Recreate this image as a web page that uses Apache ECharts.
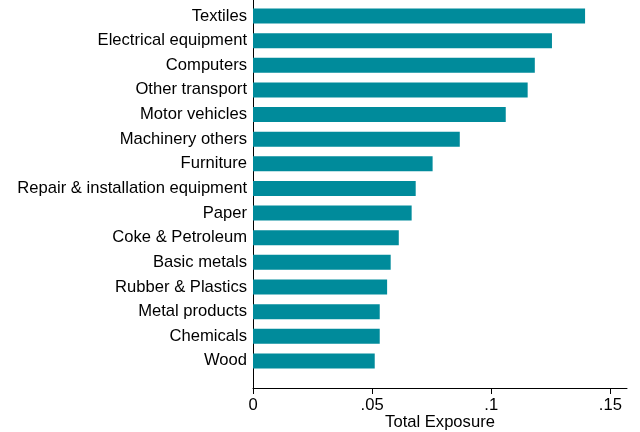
<!DOCTYPE html>
<html>
<head>
<meta charset="utf-8">
<script src="https://cdn.jsdelivr.net/npm/echarts@6/dist/echarts.min.js"></script>
<style>html,body{margin:0;padding:0;background:#fff}#c{width:640px;height:432px}</style>
</head>
<body>
<div id="c"></div>
<script>
const categories = ["Textiles","Electrical equipment","Computers","Other transport","Motor vehicles","Machinery others","Furniture","Repair & installation equipment","Paper","Coke & Petroleum","Basic metals","Rubber & Plastics","Metal products","Chemicals","Wood"];
const exposure = [0.1394,0.1255,0.1183,0.1153,0.1061,0.0868,0.0754,0.0683,0.0666,0.0612,0.0578,0.0563,0.0532,0.0532,0.0511];
const xTicks = [0,0.05,0.1,0.15];
const xTickLabels = ["0",".05",".1",".15"];

const font = '"Liberation Sans", Arial, sans-serif';
const fs = 16.6;
const chart = echarts.init(document.getElementById('c'), null, {renderer:'canvas'});
chart.setOption({
  animation:false,
  grid:{left:253,right:13,top:0,bottom:44,containLabel:false,outerBoundsMode:'none'},
  xAxis:{
    type:'value',min:0,max:0.157,position:'bottom',
    splitLine:{show:false},
    axisLine:{show:true,onZero:false,lineStyle:{color:'#000',width:1}},
    axisTick:{show:true,length:6,customValues:xTicks,lineStyle:{color:'#000'}},
    axisLabel:{customValues:xTicks,formatter:v=>xTickLabels[xTicks.findIndex(t=>Math.abs(t-v)<1e-9)],color:'#000',fontSize:fs,fontFamily:font,margin:9},
    name:'Total Exposure',nameLocation:'middle',nameGap:26,nameMoveOverlap:false,
    nameTextStyle:{color:'#000',fontSize:fs,fontFamily:font}
  },
  yAxis:{
    type:'value',min:-0.65,max:15.1,inverse:true,position:'left',
    splitLine:{show:false},
    axisLine:{show:true,onZero:false,lineStyle:{color:'#000',width:1}},
    axisTick:{show:false},
    axisLabel:{customValues:categories.map((c,i)=>i),formatter:v=>categories[Math.round(v)],color:'#000',fontSize:fs,fontFamily:font,margin:6}
  },
  series:[{
    type:'custom',
    data:exposure.map((v,i)=>[v,i]),
    encode:{x:0,y:1},
    renderItem:function(params,api){
      const p0 = api.coord([0,api.value(1)]);
      const p1 = api.coord([api.value(0),api.value(1)]);
      const h = 15;
      return {type:'rect',shape:{x:p0[0],y:p0[1]-h/2,width:p1[0]-p0[0],height:h},style:{fill:'#008B9B'}};
    }
  }]
});
</script>
</body>
</html>
